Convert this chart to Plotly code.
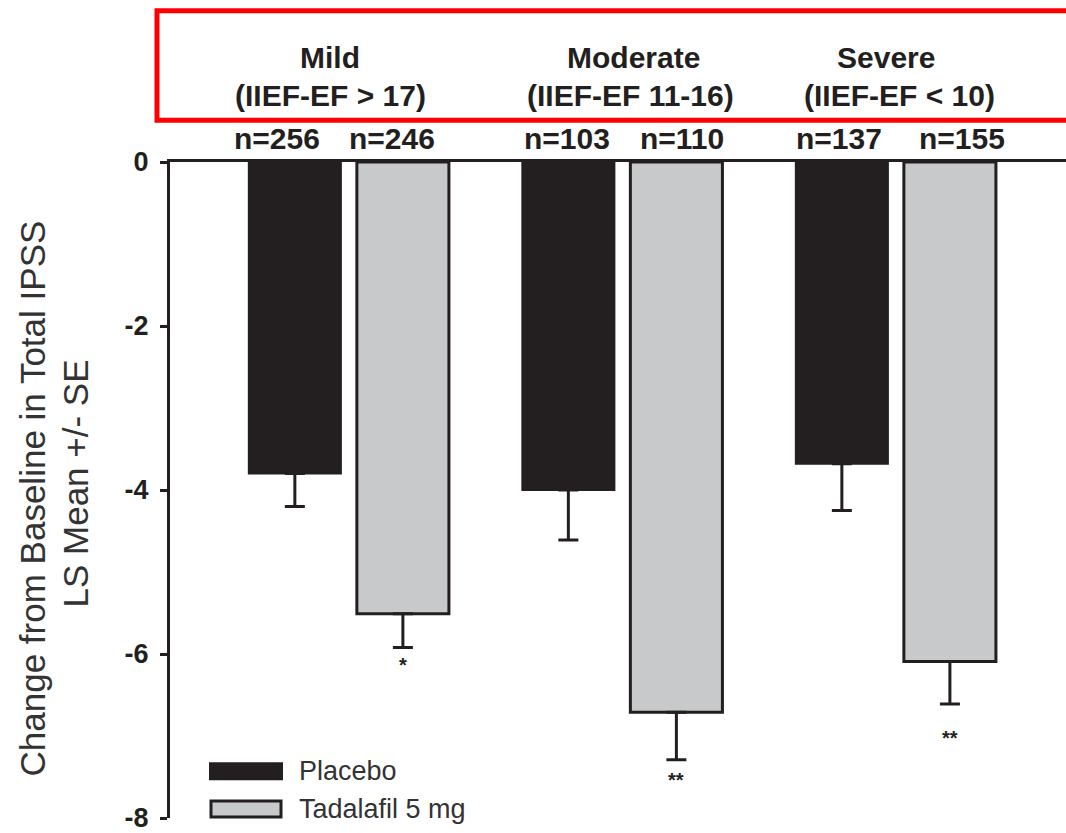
import plotly.graph_objects as go

# ---------------- data ----------------
groups = ["Mild", "Moderate", "Severe"]
group_sub = ["(IIEF-EF &gt; 17)", "(IIEF-EF 11-16)", "(IIEF-EF &lt; 10)"]
placebo_mean = [-3.80, -4.00, -3.68]
placebo_se = [0.40, 0.61, 0.57]
tadalafil_mean = [-5.51, -6.71, -6.09]
tadalafil_se = [0.41, 0.58, 0.52]
placebo_n = [256, 103, 137]
tadalafil_n = [246, 110, 155]
sig_marks = ["*", "**", "**"]
sig_y = [-6.14, -7.54, -7.03]
yticks = [0, -2, -4, -6, -8]

# ---------------- layout geometry ----------------
W, H = 1066, 833
L, R, T, B = 170, 0, 162, 12
PW, PH = W - L - R, H - T - B
x_idx = list(range(len(groups)))
x_range = [-0.654, 2.622]
slot = 0.197  # half distance between bar centers in a group (data units)

DARK = "#231f20"
GRAY = "#c8c9cb"
TXT = "#333333"
FONT = "Liberation Sans, Arial, Helvetica, sans-serif"


def px(xp):
    return (xp - L) / PW


def py(yp):
    return (H - B - yp) / PH


fig = go.Figure()
fig.add_trace(go.Bar(
    x=x_idx, y=placebo_mean, name="Placebo",
    marker=dict(color=DARK, line=dict(color=DARK, width=2)),
    error_y=dict(type="data", symmetric=False, array=[0] * 3, arrayminus=placebo_se,
                 color=DARK, thickness=3, width=10),
    showlegend=False,
))
fig.add_trace(go.Bar(
    x=x_idx, y=tadalafil_mean, name="Tadalafil 5 mg",
    marker=dict(color=GRAY, line=dict(color=DARK, width=3)),
    error_y=dict(type="data", symmetric=False, array=[0] * 3, arrayminus=tadalafil_se,
                 color=DARK, thickness=3, width=10),
    showlegend=False,
))

annotations = []


def ann(**kw):
    base = dict(showarrow=False, xanchor="center", yanchor="middle")
    base.update(kw)
    annotations.append(base)


LBL = 30
# group labels
title_shift = [-19, 11, -10]
sub_shift = [-18, 8, 4]
for i, g in enumerate(groups):
    ann(x=x_idx[i], y=py(57), xref="x", yref="paper", text=f"<b>{g}</b>",
        xshift=title_shift[i], font=dict(family=FONT, size=LBL, color=DARK))
    ann(x=x_idx[i], y=py(95), xref="x", yref="paper", text=f"<b>{group_sub[i]}</b>",
        xshift=sub_shift[i], font=dict(family=FONT, size=LBL, color=DARK))
# n labels
n_shift_p = [-18, -2, -3]
n_shift_t = [-11, 6, 12]
for i in x_idx:
    ann(x=x_idx[i] - slot, y=py(138), xref="x", yref="paper",
        text=f"<b>n={placebo_n[i]}</b>", xshift=n_shift_p[i],
        font=dict(family=FONT, size=LBL, color=DARK))
    ann(x=x_idx[i] + slot, y=py(138), xref="x", yref="paper",
        text=f"<b>n={tadalafil_n[i]}</b>", xshift=n_shift_t[i],
        font=dict(family=FONT, size=LBL, color=DARK))
# significance marks
for i in x_idx:
    ann(x=x_idx[i] + slot, y=sig_y[i], xref="x", yref="y",
        text=f"<b>{sig_marks[i]}</b>", font=dict(family=FONT, size=20, color=DARK))
# y-axis title (two lines)
ann(x=px(32), y=py(500), xref="paper", yref="paper",
    text="Change from Baseline in Total IPSS", textangle=-90,
    font=dict(family=FONT, size=35, color=TXT))
ann(x=px(76), y=py(485), xref="paper", yref="paper",
    text="LS Mean +/- SE", textangle=-90,
    font=dict(family=FONT, size=35, color=TXT))
# legend text
ann(x=px(297), y=py(774), xref="paper", yref="paper", xanchor="left",
    text="Placebo", font=dict(family=FONT, size=27, color=TXT))
ann(x=px(297), y=py(812), xref="paper", yref="paper", xanchor="left",
    text="Tadalafil 5 mg", font=dict(family=FONT, size=27, color=TXT))

shapes = [
    # red frame around group labels
    dict(type="rect", xref="paper", yref="paper", x0=px(157), x1=px(1075), y0=py(10), y1=py(120),
         line=dict(color="#ff0000", width=5), fillcolor="rgba(0,0,0,0)", layer="above"),
    # legend swatches
    dict(type="rect", xref="paper", yref="paper", x0=px(210), x1=px(282), y0=py(766), y1=py(782),
         line=dict(color=DARK, width=2), fillcolor=DARK),
    dict(type="rect", xref="paper", yref="paper", x0=px(211), x1=px(281), y0=py(804), y1=py(820),
         line=dict(color=DARK, width=3), fillcolor=GRAY),
]

fig.update_layout(
    width=W, height=H,
    margin=dict(l=L, r=R, t=T, b=B, pad=0),
    paper_bgcolor="white", plot_bgcolor="white",
    barmode="group", bargap=0.21, bargroupgap=0.148,
    annotations=annotations, shapes=shapes,
    xaxis=dict(range=x_range, side="top", showline=True, linecolor=DARK, linewidth=3,
               showticklabels=False, ticks="", showgrid=False, zeroline=False, fixedrange=True),
    yaxis=dict(range=[-8, 0], tickvals=yticks, ticktext=[f"<b>{v}</b>" for v in yticks],
               showline=True, linecolor=DARK, linewidth=3, ticks="outside", ticklen=7,
               tickwidth=3, tickcolor=DARK, showgrid=False, zeroline=False,
               ticklabelstandoff=6, ticklabeloverflow="allow",
               tickfont=dict(family=FONT, size=27, color=DARK)),
    showlegend=False,
)

fig.write_html("out.html")
